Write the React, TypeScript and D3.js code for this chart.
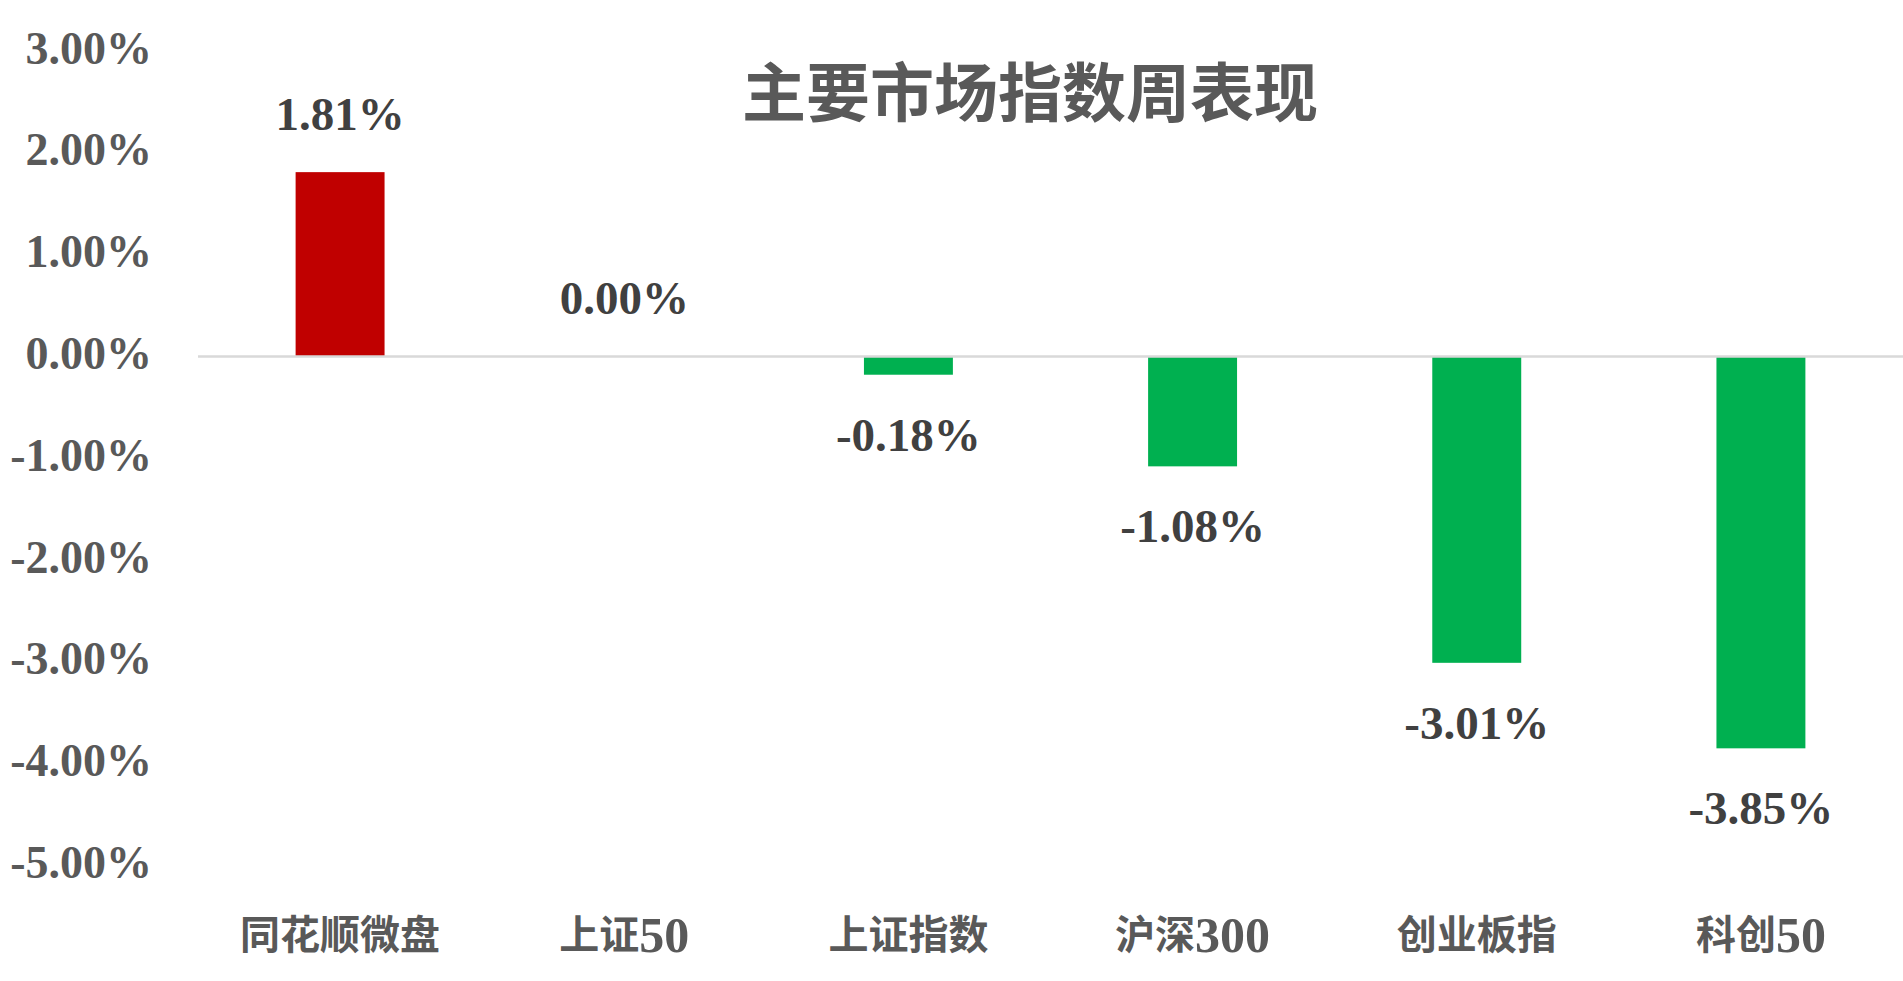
import React from "react";
import * as d3 from "d3";

const categories = ["同花顺微盘", "上证50", "上证指数", "沪深300", "创业板指", "科创50"];
const values = [1.81, 0.0, -0.18, -1.08, -3.01, -3.85];
const yTicks = [3, 2, 1, 0, -1, -2, -3, -4, -5];
const title = "主要市场指数周表现";

const W = 1903;
const H = 981;
const FONT = "'Liberation Serif', 'Times New Roman', 'Noto Sans CJK SC', serif";

function splitRuns(s: string) {
  const runs: { t: string; digit: boolean }[] = [];
  for (const ch of s) {
    const d = /[0-9]/.test(ch);
    if (runs.length && runs[runs.length - 1].digit === d) runs[runs.length - 1].t += ch;
    else runs.push({ t: ch, digit: d });
  }
  return runs;
}

export default function App() {
  const x = d3
    .scaleBand<string>()
    .domain(categories)
    .range([198, 1903])
    .paddingInner(0.687)
    .paddingOuter(0.3435);
  const y = d3.scaleLinear().domain([-5, 3]).range([865.4, 51]);
  const fmt = (v: number) => v.toFixed(2) + "%";

  return (
    <svg
      width={W}
      height={H}
      style={{ position: "absolute", left: 0, top: 0, background: "#fff" }}
    >
      <rect x={0} y={0} width={W} height={H} fill="#fff" />
      <text
        x={1030}
        y={94}
        textAnchor="middle"
        dominantBaseline="central"
        fontFamily={FONT}
        fontWeight="bold"
        fontSize={64}
        fill="#595959"
      >
        {title}
      </text>
      {yTicks.map((t) => (
        <text
          key={t}
          x={152}
          y={y(t) - 3}
          textAnchor="end"
          dominantBaseline="central"
          fontFamily={FONT}
          fontWeight="bold"
          fontSize={46}
          fill="#595959"
        >
          {fmt(t)}
        </text>
      ))}
      {categories.map((c, i) => {
        const v = values[i];
        const bx = x(c)!;
        const top = Math.min(y(0), y(v));
        const h = Math.abs(y(v) - y(0));
        return (
          <rect
            key={c}
            x={bx}
            y={top}
            width={x.bandwidth()}
            height={h}
            fill={v > 0 ? "#C00000" : "#00B050"}
          />
        );
      })}
      <line
        x1={198}
        x2={1903}
        y1={y(0)}
        y2={y(0)}
        stroke="#D9D9D9"
        strokeWidth={2.5}
      />
      {categories.map((c, i) => {
        const v = values[i];
        const cx = x(c)! + x.bandwidth() / 2;
        const ly = v >= 0 ? y(v) - 58 : y(v) + 60;
        return (
          <text
            key={"l" + c}
            x={cx}
            y={ly}
            textAnchor="middle"
            dominantBaseline="central"
            fontFamily={FONT}
            fontWeight="bold"
            fontSize={47}
            fill="#404040"
          >
            {fmt(v)}
          </text>
        );
      })}
      {categories.map((c) => (
        <text
          key={"c" + c}
          x={x(c)! + x.bandwidth() / 2}
          y={935}
          textAnchor="middle"
          dominantBaseline="central"
          fontFamily={FONT}
          fontWeight="bold"
          fontSize={40}
          fill="#595959"
        >
          {splitRuns(c).map((r, k) => (
            <tspan key={k} fontSize={r.digit ? 50 : 40}>
              {r.t}
            </tspan>
          ))}
        </text>
      ))}
    </svg>
  );
}
